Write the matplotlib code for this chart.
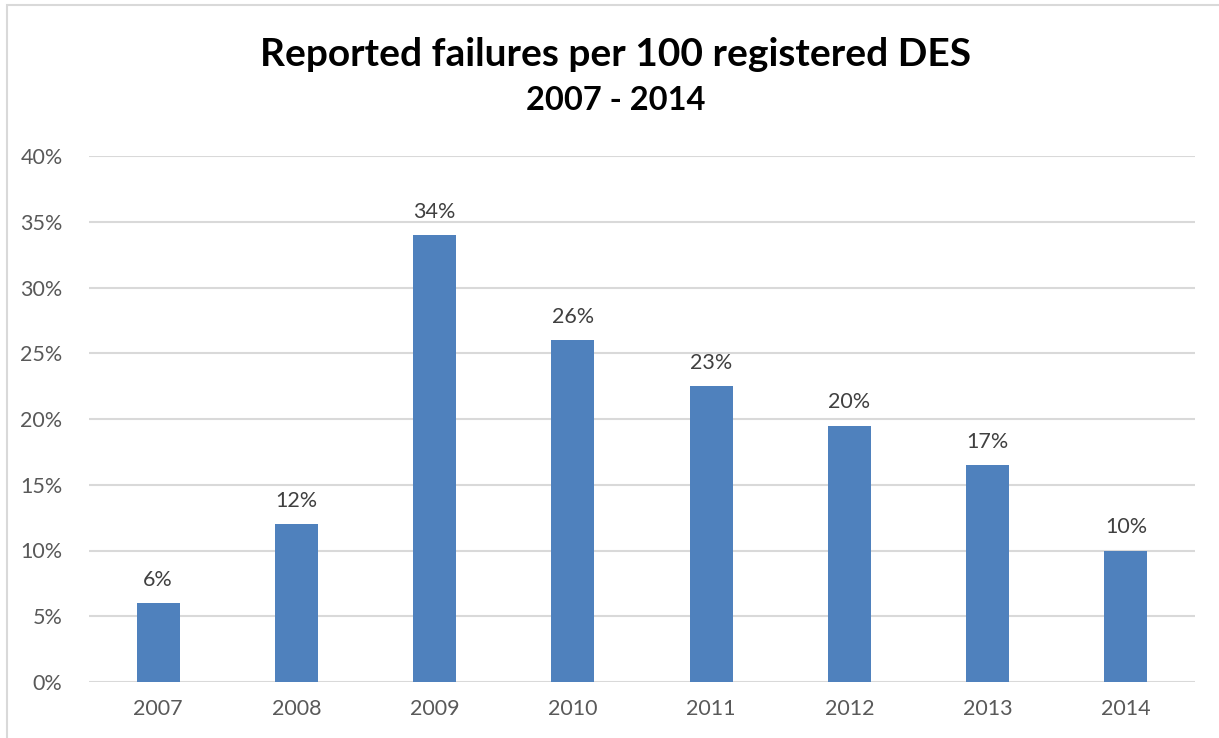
import numpy as np
import matplotlib.pyplot as plt
from matplotlib.patches import Rectangle

years = ["2007", "2008", "2009", "2010", "2011", "2012", "2013", "2014"]
failure_rate = [6.0, 12.0, 34.0, 26.0, 22.5, 19.5, 16.5, 10.0]
bar_labels = ["6%", "12%", "34%", "26%", "23%", "20%", "17%", "10%"]
y_ticks = [0, 5, 10, 15, 20, 25, 30, 35, 40]

plt.rcParams["font.family"] = ["Lato", "DejaVu Sans"]
W, H = 1219, 738
fig = plt.figure(figsize=(W / 100, H / 100), dpi=100)

# chart frame
fig.patches.append(Rectangle((7 / W, -0.1), 1.2, 1 - 5 / H + 0.1, transform=fig.transFigure,
                             fill=False, edgecolor="#d9d9d9", linewidth=1.5))

ax = fig.add_axes([89 / W, 1 - 682 / H, (1195 - 89) / W, (682 - 156) / H])
x = np.arange(len(years))
ax.bar(x, failure_rate, width=0.31, color="#4f81bd", zorder=3)
for xi, v, lab in zip(x, failure_rate, bar_labels):
    ax.text(xi, v + 1.0, lab, ha="center", va="bottom", fontsize=15.5, color="#404040")

ax.set_xlim(-0.5, len(years) - 0.5)
ax.set_ylim(0, 40)
ax.set_yticks(y_ticks)
ax.set_yticklabels([f"{t}%" for t in y_ticks])
ax.set_xticks(x)
ax.set_xticklabels(years)
ax.tick_params(length=0, labelsize=15.5, labelcolor="#595959")
ax.tick_params(axis="y", pad=19)
ax.tick_params(axis="x", pad=12)
ax.grid(axis="y", color="#d9d9d9", linewidth=1.5, zorder=0)
for s in ax.spines.values():
    s.set_visible(False)

fig.text(616 / W, 1 - 55 / H, "Reported failures per 100 registered DES", ha="center", va="center",
         fontsize=28, fontweight="bold", color="black")
fig.text(616 / W, 1 - 101 / H, "2007 - 2014", ha="center", va="center",
         fontsize=23.5, fontweight="bold", color="black")

fig.savefig("out.png", dpi=100)
